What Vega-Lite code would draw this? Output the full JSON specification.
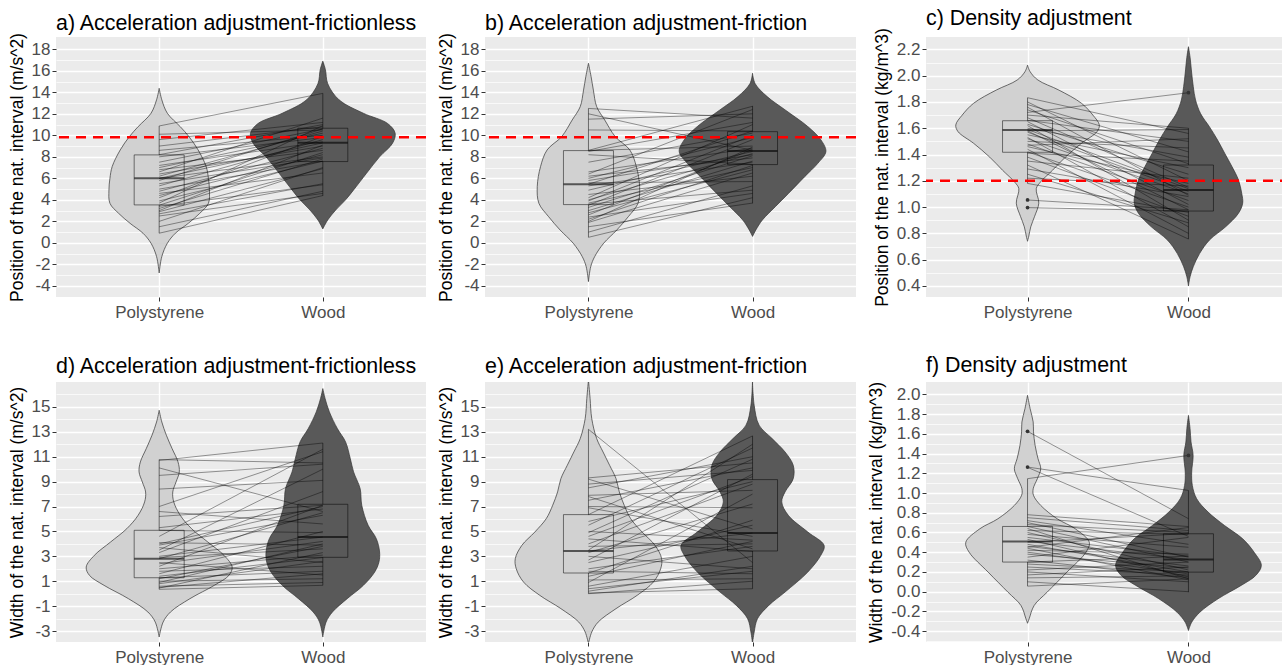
{
"$schema": "https://vega.github.io/schema/vega-lite/v6.json",
"background": "#FFFFFF",
"padding": {"left": 8, "top": 7, "right": 0, "bottom": 0},
"datasets": {
"violin": [
{"panel":"a","group":"Polystyrene","y":14.37,"w":0},{"panel":"a","group":"Polystyrene","y":13.3,"w":0.016},{"panel":"a","group":"Polystyrene","y":12.05,"w":0.05},{"panel":"a","group":"Polystyrene","y":10.8,"w":0.129},{"panel":"a","group":"Polystyrene","y":9.88,"w":0.182},{"panel":"a","group":"Polystyrene","y":8.64,"w":0.238},{"panel":"a","group":"Polystyrene","y":7.1,"w":0.287},{"panel":"a","group":"Polystyrene","y":6.0,"w":0.301},{"panel":"a","group":"Polystyrene","y":4.92,"w":0.307},{"panel":"a","group":"Polystyrene","y":3.68,"w":0.301},{"panel":"a","group":"Polystyrene","y":2.75,"w":0.248},{"panel":"a","group":"Polystyrene","y":1.82,"w":0.178},{"panel":"a","group":"Polystyrene","y":0.9,"w":0.099},{"panel":"a","group":"Polystyrene","y":-0.03,"w":0.05},{"panel":"a","group":"Polystyrene","y":-1.27,"w":0.016},{"panel":"a","group":"Polystyrene","y":-2.8,"w":0},
{"panel":"a","group":"Wood","y":16.9,"w":0},{"panel":"a","group":"Wood","y":16.1,"w":0.016},{"panel":"a","group":"Wood","y":14.8,"w":0.03},{"panel":"a","group":"Wood","y":13.3,"w":0.099},{"panel":"a","group":"Wood","y":12.05,"w":0.248},{"panel":"a","group":"Wood","y":11.1,"w":0.396},{"panel":"a","group":"Wood","y":10.2,"w":0.442},{"panel":"a","group":"Wood","y":9.26,"w":0.426},{"panel":"a","group":"Wood","y":8.0,"w":0.347},{"panel":"a","group":"Wood","y":6.47,"w":0.267},{"panel":"a","group":"Wood","y":4.92,"w":0.188},{"panel":"a","group":"Wood","y":4.0,"w":0.139},{"panel":"a","group":"Wood","y":3.06,"w":0.079},{"panel":"a","group":"Wood","y":2.13,"w":0.03},{"panel":"a","group":"Wood","y":1.3,"w":0},
{"panel":"b","group":"Polystyrene","y":16.7,"w":0},{"panel":"b","group":"Polystyrene","y":15.46,"w":0.016},{"panel":"b","group":"Polystyrene","y":14.2,"w":0.03},{"panel":"b","group":"Polystyrene","y":12.67,"w":0.05},{"panel":"b","group":"Polystyrene","y":11.43,"w":0.099},{"panel":"b","group":"Polystyrene","y":9.88,"w":0.163},{"panel":"b","group":"Polystyrene","y":8.64,"w":0.252},{"panel":"b","group":"Polystyrene","y":7.09,"w":0.292},{"panel":"b","group":"Polystyrene","y":5.23,"w":0.312},{"panel":"b","group":"Polystyrene","y":3.68,"w":0.302},{"panel":"b","group":"Polystyrene","y":2.44,"w":0.243},{"panel":"b","group":"Polystyrene","y":1.2,"w":0.173},{"panel":"b","group":"Polystyrene","y":-0.03,"w":0.093},{"panel":"b","group":"Polystyrene","y":-1.27,"w":0.038},{"panel":"b","group":"Polystyrene","y":-2.2,"w":0.014},{"panel":"b","group":"Polystyrene","y":-3.6,"w":0},
{"panel":"b","group":"Wood","y":15.77,"w":0},{"panel":"b","group":"Wood","y":14.8,"w":0.016},{"panel":"b","group":"Wood","y":13.6,"w":0.089},{"panel":"b","group":"Wood","y":12.36,"w":0.199},{"panel":"b","group":"Wood","y":10.8,"w":0.338},{"panel":"b","group":"Wood","y":9.57,"w":0.417},{"panel":"b","group":"Wood","y":8.49,"w":0.447},{"panel":"b","group":"Wood","y":7.4,"w":0.398},{"panel":"b","group":"Wood","y":6.16,"w":0.318},{"panel":"b","group":"Wood","y":4.6,"w":0.219},{"panel":"b","group":"Wood","y":3.37,"w":0.139},{"panel":"b","group":"Wood","y":2.13,"w":0.06},{"panel":"b","group":"Wood","y":1.2,"w":0.02},{"panel":"b","group":"Wood","y":0.6,"w":0},
{"panel":"c","group":"Polystyrene","y":2.08,"w":0},{"panel":"c","group":"Polystyrene","y":2.03,"w":0.016},{"panel":"c","group":"Polystyrene","y":1.967,"w":0.064},{"panel":"c","group":"Polystyrene","y":1.89,"w":0.195},{"panel":"c","group":"Polystyrene","y":1.79,"w":0.335},{"panel":"c","group":"Polystyrene","y":1.7,"w":0.406},{"panel":"c","group":"Polystyrene","y":1.625,"w":0.446},{"panel":"c","group":"Polystyrene","y":1.574,"w":0.432},{"panel":"c","group":"Polystyrene","y":1.485,"w":0.335},{"panel":"c","group":"Polystyrene","y":1.38,"w":0.235},{"panel":"c","group":"Polystyrene","y":1.28,"w":0.155},{"panel":"c","group":"Polystyrene","y":1.19,"w":0.08},{"panel":"c","group":"Polystyrene","y":1.14,"w":0.054},{"panel":"c","group":"Polystyrene","y":1.03,"w":0.07},{"panel":"c","group":"Polystyrene","y":0.93,"w":0.044},{"panel":"c","group":"Polystyrene","y":0.85,"w":0.02},{"panel":"c","group":"Polystyrene","y":0.78,"w":0.008},{"panel":"c","group":"Polystyrene","y":0.74,"w":0},
{"panel":"c","group":"Wood","y":2.22,"w":0},{"panel":"c","group":"Wood","y":2.14,"w":0.01},{"panel":"c","group":"Wood","y":2.02,"w":0.02},{"panel":"c","group":"Wood","y":1.916,"w":0.03},{"panel":"c","group":"Wood","y":1.815,"w":0.044},{"panel":"c","group":"Wood","y":1.71,"w":0.076},{"panel":"c","group":"Wood","y":1.61,"w":0.131},{"panel":"c","group":"Wood","y":1.51,"w":0.181},{"panel":"c","group":"Wood","y":1.41,"w":0.225},{"panel":"c","group":"Wood","y":1.307,"w":0.271},{"panel":"c","group":"Wood","y":1.206,"w":0.311},{"panel":"c","group":"Wood","y":1.105,"w":0.331},{"panel":"c","group":"Wood","y":1.03,"w":0.337},{"panel":"c","group":"Wood","y":0.953,"w":0.311},{"panel":"c","group":"Wood","y":0.85,"w":0.231},{"panel":"c","group":"Wood","y":0.75,"w":0.131},{"panel":"c","group":"Wood","y":0.648,"w":0.07},{"panel":"c","group":"Wood","y":0.547,"w":0.03},{"panel":"c","group":"Wood","y":0.47,"w":0.01},{"panel":"c","group":"Wood","y":0.4,"w":0},
{"panel":"d","group":"Polystyrene","y":14.73,"w":0},{"panel":"d","group":"Polystyrene","y":13.79,"w":0.016},{"panel":"d","group":"Polystyrene","y":12.72,"w":0.044},{"panel":"d","group":"Polystyrene","y":11.65,"w":0.079},{"panel":"d","group":"Polystyrene","y":10.58,"w":0.115},{"panel":"d","group":"Polystyrene","y":9.78,"w":0.123},{"panel":"d","group":"Polystyrene","y":8.97,"w":0.103},{"panel":"d","group":"Polystyrene","y":8.17,"w":0.083},{"panel":"d","group":"Polystyrene","y":7.37,"w":0.089},{"panel":"d","group":"Polystyrene","y":6.29,"w":0.129},{"panel":"d","group":"Polystyrene","y":5.22,"w":0.198},{"panel":"d","group":"Polystyrene","y":4.15,"w":0.297},{"panel":"d","group":"Polystyrene","y":3.08,"w":0.396},{"panel":"d","group":"Polystyrene","y":2.14,"w":0.446},{"panel":"d","group":"Polystyrene","y":1.47,"w":0.426},{"panel":"d","group":"Polystyrene","y":0.67,"w":0.337},{"panel":"d","group":"Polystyrene","y":-0.4,"w":0.188},{"panel":"d","group":"Polystyrene","y":-1.47,"w":0.069},{"panel":"d","group":"Polystyrene","y":-2.28,"w":0.024},{"panel":"d","group":"Polystyrene","y":-3.48,"w":0},
{"panel":"d","group":"Wood","y":16.47,"w":0},{"panel":"d","group":"Wood","y":15.67,"w":0.014},{"panel":"d","group":"Wood","y":14.6,"w":0.04},{"panel":"d","group":"Wood","y":13.26,"w":0.089},{"panel":"d","group":"Wood","y":12.19,"w":0.139},{"panel":"d","group":"Wood","y":10.85,"w":0.168},{"panel":"d","group":"Wood","y":9.78,"w":0.188},{"panel":"d","group":"Wood","y":8.44,"w":0.228},{"panel":"d","group":"Wood","y":7.1,"w":0.238},{"panel":"d","group":"Wood","y":5.49,"w":0.277},{"panel":"d","group":"Wood","y":4.42,"w":0.327},{"panel":"d","group":"Wood","y":3.35,"w":0.347},{"panel":"d","group":"Wood","y":2.54,"w":0.343},{"panel":"d","group":"Wood","y":1.74,"w":0.317},{"panel":"d","group":"Wood","y":0.67,"w":0.248},{"panel":"d","group":"Wood","y":-0.4,"w":0.149},{"panel":"d","group":"Wood","y":-1.47,"w":0.059},{"panel":"d","group":"Wood","y":-2.28,"w":0.02},{"panel":"d","group":"Wood","y":-3.48,"w":0},
{"panel":"e","group":"Polystyrene","y":17.2,"w":0},{"panel":"e","group":"Polystyrene","y":15.67,"w":0.01},{"panel":"e","group":"Polystyrene","y":14.06,"w":0.02},{"panel":"e","group":"Polystyrene","y":12.46,"w":0.05},{"panel":"e","group":"Polystyrene","y":11.38,"w":0.089},{"panel":"e","group":"Polystyrene","y":10.31,"w":0.129},{"panel":"e","group":"Polystyrene","y":9.24,"w":0.168},{"panel":"e","group":"Polystyrene","y":8.17,"w":0.188},{"panel":"e","group":"Polystyrene","y":7.1,"w":0.218},{"panel":"e","group":"Polystyrene","y":6.03,"w":0.257},{"panel":"e","group":"Polystyrene","y":4.95,"w":0.327},{"panel":"e","group":"Polystyrene","y":3.88,"w":0.406},{"panel":"e","group":"Polystyrene","y":2.81,"w":0.446},{"panel":"e","group":"Polystyrene","y":2.0,"w":0.44},{"panel":"e","group":"Polystyrene","y":0.94,"w":0.396},{"panel":"e","group":"Polystyrene","y":-0.13,"w":0.297},{"panel":"e","group":"Polystyrene","y":-1.2,"w":0.168},{"panel":"e","group":"Polystyrene","y":-2.28,"w":0.059},{"panel":"e","group":"Polystyrene","y":-3.08,"w":0.02},{"panel":"e","group":"Polystyrene","y":-4.02,"w":0},
{"panel":"e","group":"Wood","y":17.2,"w":0},{"panel":"e","group":"Wood","y":15.13,"w":0.01},{"panel":"e","group":"Wood","y":13.53,"w":0.04},{"panel":"e","group":"Wood","y":12.46,"w":0.119},{"panel":"e","group":"Wood","y":11.38,"w":0.198},{"panel":"e","group":"Wood","y":10.31,"w":0.248},{"panel":"e","group":"Wood","y":9.24,"w":0.248},{"panel":"e","group":"Wood","y":8.17,"w":0.198},{"panel":"e","group":"Wood","y":7.37,"w":0.178},{"panel":"e","group":"Wood","y":6.29,"w":0.218},{"panel":"e","group":"Wood","y":4.95,"w":0.337},{"panel":"e","group":"Wood","y":3.88,"w":0.436},{"panel":"e","group":"Wood","y":3.08,"w":0.416},{"panel":"e","group":"Wood","y":1.74,"w":0.337},{"panel":"e","group":"Wood","y":0.13,"w":0.198},{"panel":"e","group":"Wood","y":-0.94,"w":0.099},{"panel":"e","group":"Wood","y":-2.01,"w":0.03},{"panel":"e","group":"Wood","y":-3.08,"w":0.01},{"panel":"e","group":"Wood","y":-4.02,"w":0},
{"panel":"f","group":"Polystyrene","y":1.99,"w":0},{"panel":"f","group":"Polystyrene","y":1.855,"w":0.016},{"panel":"f","group":"Polystyrene","y":1.72,"w":0.035},{"panel":"f","group":"Polystyrene","y":1.62,"w":0.037},{"panel":"f","group":"Polystyrene","y":1.483,"w":0.047},{"panel":"f","group":"Polystyrene","y":1.348,"w":0.065},{"panel":"f","group":"Polystyrene","y":1.246,"w":0.082},{"panel":"f","group":"Polystyrene","y":1.145,"w":0.061},{"panel":"f","group":"Polystyrene","y":1.043,"w":0.035},{"panel":"f","group":"Polystyrene","y":0.976,"w":0.037},{"panel":"f","group":"Polystyrene","y":0.874,"w":0.082},{"panel":"f","group":"Polystyrene","y":0.739,"w":0.184},{"panel":"f","group":"Polystyrene","y":0.638,"w":0.296},{"panel":"f","group":"Polystyrene","y":0.5,"w":0.384},{"panel":"f","group":"Polystyrene","y":0.4,"w":0.363},{"panel":"f","group":"Polystyrene","y":0.198,"w":0.245},{"panel":"f","group":"Polystyrene","y":-0.005,"w":0.122},{"panel":"f","group":"Polystyrene","y":-0.14,"w":0.041},{"panel":"f","group":"Polystyrene","y":-0.275,"w":0.01},{"panel":"f","group":"Polystyrene","y":-0.32,"w":0},
{"panel":"f","group":"Wood","y":1.787,"w":0},{"panel":"f","group":"Wood","y":1.652,"w":0.01},{"panel":"f","group":"Wood","y":1.517,"w":0.016},{"panel":"f","group":"Wood","y":1.381,"w":0.029},{"panel":"f","group":"Wood","y":1.212,"w":0.02},{"panel":"f","group":"Wood","y":1.077,"w":0.024},{"panel":"f","group":"Wood","y":0.942,"w":0.051},{"panel":"f","group":"Wood","y":0.807,"w":0.122},{"panel":"f","group":"Wood","y":0.671,"w":0.224},{"panel":"f","group":"Wood","y":0.536,"w":0.337},{"panel":"f","group":"Wood","y":0.4,"w":0.408},{"panel":"f","group":"Wood","y":0.266,"w":0.453},{"panel":"f","group":"Wood","y":0.164,"w":0.418},{"panel":"f","group":"Wood","y":0.063,"w":0.327},{"panel":"f","group":"Wood","y":-0.072,"w":0.184},{"panel":"f","group":"Wood","y":-0.208,"w":0.071},{"panel":"f","group":"Wood","y":-0.31,"w":0.02},{"panel":"f","group":"Wood","y":-0.394,"w":0}
],
"pairs": [
{"panel":"a","poly":10.87,"wood":13.9},{"panel":"a","poly":10.1,"wood":10.5},{"panel":"a","poly":9.6,"wood":11.2},{"panel":"a","poly":9.0,"wood":10.8},{"panel":"a","poly":8.6,"wood":10.0},{"panel":"a","poly":8.2,"wood":11.0},{"panel":"a","poly":8.0,"wood":9.8},{"panel":"a","poly":7.5,"wood":10.6},{"panel":"a","poly":7.2,"wood":9.4},{"panel":"a","poly":7.0,"wood":10.2},{"panel":"a","poly":6.8,"wood":8.6},{"panel":"a","poly":6.6,"wood":11.6},{"panel":"a","poly":6.4,"wood":9.0},{"panel":"a","poly":6.2,"wood":10.4},{"panel":"a","poly":6.0,"wood":9.3},{"panel":"a","poly":6.0,"wood":8.0},{"panel":"a","poly":5.8,"wood":10.6},{"panel":"a","poly":5.5,"wood":7.9},{"panel":"a","poly":5.3,"wood":9.6},{"panel":"a","poly":5.0,"wood":7.6},{"panel":"a","poly":4.8,"wood":8.8},{"panel":"a","poly":4.6,"wood":6.5},{"panel":"a","poly":4.2,"wood":9.9},{"panel":"a","poly":3.9,"wood":7.6},{"panel":"a","poly":3.7,"wood":10.9},{"panel":"a","poly":3.5,"wood":8.4},{"panel":"a","poly":3.4,"wood":5.4},{"panel":"a","poly":3.2,"wood":7.8},{"panel":"a","poly":3.0,"wood":9.1},{"panel":"a","poly":2.9,"wood":6.9},{"panel":"a","poly":2.7,"wood":5.5},{"panel":"a","poly":2.5,"wood":4.6},{"panel":"a","poly":2.0,"wood":7.0},{"panel":"a","poly":1.5,"wood":4.8},{"panel":"a","poly":0.9,"wood":4.4},{"panel":"a","poly":4.4,"wood":8.2},
{"panel":"b","poly":12.5,"wood":11.6},{"panel":"b","poly":12.0,"wood":8.6},{"panel":"b","poly":11.5,"wood":12.0},{"panel":"b","poly":10.5,"wood":10.4},{"panel":"b","poly":8.6,"wood":12.7},{"panel":"b","poly":8.6,"wood":9.0},{"panel":"b","poly":8.5,"wood":11.2},{"panel":"b","poly":8.2,"wood":7.3},{"panel":"b","poly":7.5,"wood":10.2},{"panel":"b","poly":6.6,"wood":8.8},{"panel":"b","poly":6.4,"wood":12.4},{"panel":"b","poly":6.2,"wood":7.9},{"panel":"b","poly":6.0,"wood":9.8},{"panel":"b","poly":5.8,"wood":8.2},{"panel":"b","poly":5.6,"wood":5.7},{"panel":"b","poly":5.45,"wood":10.4},{"panel":"b","poly":5.3,"wood":7.5},{"panel":"b","poly":4.9,"wood":8.5},{"panel":"b","poly":4.5,"wood":6.2},{"panel":"b","poly":4.0,"wood":8.3},{"panel":"b","poly":3.9,"wood":10.0},{"panel":"b","poly":3.7,"wood":7.0},{"panel":"b","poly":3.6,"wood":4.9},{"panel":"b","poly":3.5,"wood":9.6},{"panel":"b","poly":3.3,"wood":8.1},{"panel":"b","poly":3.0,"wood":7.6},{"panel":"b","poly":2.8,"wood":6.8},{"panel":"b","poly":2.6,"wood":8.7},{"panel":"b","poly":2.4,"wood":4.6},{"panel":"b","poly":2.2,"wood":7.2},{"panel":"b","poly":2.0,"wood":8.9},{"panel":"b","poly":1.9,"wood":6.5},{"panel":"b","poly":1.5,"wood":3.7},{"panel":"b","poly":1.0,"wood":5.3},{"panel":"b","poly":0.52,"wood":4.2},{"panel":"b","poly":4.2,"wood":11.0},
{"panel":"c","poly":1.72,"wood":1.87},{"panel":"c","poly":1.832,"wood":1.56},{"panel":"c","poly":1.8,"wood":1.2},{"panel":"c","poly":1.78,"wood":1.42},{"panel":"c","poly":1.76,"wood":1.09},{"panel":"c","poly":1.74,"wood":1.33},{"panel":"c","poly":1.7,"wood":1.6},{"panel":"c","poly":1.68,"wood":1.15},{"panel":"c","poly":1.66,"wood":1.5},{"panel":"c","poly":1.65,"wood":1.02},{"panel":"c","poly":1.63,"wood":1.25},{"panel":"c","poly":1.62,"wood":0.9},{"panel":"c","poly":1.6,"wood":1.38},{"panel":"c","poly":1.59,"wood":1.14},{"panel":"c","poly":1.58,"wood":1.59},{"panel":"c","poly":1.58,"wood":0.98},{"panel":"c","poly":1.57,"wood":1.12},{"panel":"c","poly":1.55,"wood":1.3},{"panel":"c","poly":1.53,"wood":0.85},{"panel":"c","poly":1.5,"wood":1.45},{"panel":"c","poly":1.48,"wood":1.05},{"panel":"c","poly":1.46,"wood":1.18},{"panel":"c","poly":1.44,"wood":0.8},{"panel":"c","poly":1.42,"wood":1.0},{"panel":"c","poly":1.41,"wood":1.35},{"panel":"c","poly":1.38,"wood":0.93},{"panel":"c","poly":1.35,"wood":1.22},{"panel":"c","poly":1.32,"wood":0.757},{"panel":"c","poly":1.29,"wood":1.08},{"panel":"c","poly":1.25,"wood":0.88},{"panel":"c","poly":1.22,"wood":1.16},{"panel":"c","poly":1.18,"wood":0.96},{"panel":"c","poly":1.054,"wood":0.98},{"panel":"c","poly":0.996,"wood":0.97},{"panel":"c","poly":1.47,"wood":1.52},{"panel":"c","poly":1.52,"wood":1.1},
{"panel":"d","poly":10.77,"wood":10.5},{"panel":"d","poly":10.7,"wood":12.1},{"panel":"d","poly":10.1,"wood":6.6},{"panel":"d","poly":9.5,"wood":10.4},{"panel":"d","poly":8.4,"wood":9.1},{"panel":"d","poly":7.0,"wood":11.4},{"panel":"d","poly":6.6,"wood":5.6},{"panel":"d","poly":6.2,"wood":7.1},{"panel":"d","poly":5.3,"wood":6.8},{"panel":"d","poly":5.09,"wood":4.9},{"panel":"d","poly":4.6,"wood":11.6},{"panel":"d","poly":4.1,"wood":3.9},{"panel":"d","poly":4.0,"wood":7.0},{"panel":"d","poly":3.9,"wood":6.3},{"panel":"d","poly":3.7,"wood":2.5},{"panel":"d","poly":3.3,"wood":8.2},{"panel":"d","poly":3.0,"wood":4.55},{"panel":"d","poly":2.9,"wood":3.6},{"panel":"d","poly":2.81,"wood":6.5},{"panel":"d","poly":2.5,"wood":1.5},{"panel":"d","poly":2.4,"wood":4.2},{"panel":"d","poly":2.2,"wood":7.1},{"panel":"d","poly":2.0,"wood":3.1},{"panel":"d","poly":1.8,"wood":2.2},{"panel":"d","poly":1.6,"wood":5.0},{"panel":"d","poly":1.4,"wood":2.9},{"panel":"d","poly":1.28,"wood":1.8},{"panel":"d","poly":1.2,"wood":3.8},{"panel":"d","poly":1.0,"wood":1.2},{"panel":"d","poly":0.9,"wood":4.0},{"panel":"d","poly":0.8,"wood":2.6},{"panel":"d","poly":0.6,"wood":0.9},{"panel":"d","poly":0.5,"wood":1.6},{"panel":"d","poly":0.35,"wood":0.67},{"panel":"d","poly":0.45,"wood":3.3},{"panel":"d","poly":3.5,"wood":10.0},
{"panel":"e","poly":13.2,"wood":2.5},{"panel":"e","poly":9.3,"wood":10.5},{"panel":"e","poly":9.2,"wood":5.2},{"panel":"e","poly":8.8,"wood":9.9},{"panel":"e","poly":8.5,"wood":11.0},{"panel":"e","poly":7.9,"wood":8.3},{"panel":"e","poly":7.8,"wood":3.6},{"panel":"e","poly":7.5,"wood":10.1},{"panel":"e","poly":7.0,"wood":6.9},{"panel":"e","poly":6.9,"wood":4.6},{"panel":"e","poly":6.35,"wood":12.67},{"panel":"e","poly":5.8,"wood":9.0},{"panel":"e","poly":5.5,"wood":11.7},{"panel":"e","poly":4.9,"wood":10.8},{"panel":"e","poly":4.6,"wood":9.4},{"panel":"e","poly":4.4,"wood":3.4},{"panel":"e","poly":4.0,"wood":8.8},{"panel":"e","poly":3.8,"wood":4.0},{"panel":"e","poly":3.5,"wood":12.0},{"panel":"e","poly":3.43,"wood":4.87},{"panel":"e","poly":3.3,"wood":7.2},{"panel":"e","poly":3.0,"wood":2.0},{"panel":"e","poly":2.7,"wood":9.6},{"panel":"e","poly":2.5,"wood":5.5},{"panel":"e","poly":2.0,"wood":3.8},{"panel":"e","poly":1.8,"wood":1.6},{"panel":"e","poly":1.66,"wood":5.9},{"panel":"e","poly":1.4,"wood":4.2},{"panel":"e","poly":1.1,"wood":1.2},{"panel":"e","poly":0.9,"wood":8.0},{"panel":"e","poly":0.6,"wood":3.0},{"panel":"e","poly":0.4,"wood":1.8},{"panel":"e","poly":0.2,"wood":2.2},{"panel":"e","poly":0.05,"wood":0.4},{"panel":"e","poly":0.0,"wood":1.0},{"panel":"e","poly":5.0,"wood":4.3},
{"panel":"f","poly":1.625,"wood":0.74},{"panel":"f","poly":1.263,"wood":1.026},{"panel":"f","poly":1.26,"wood":0.56},{"panel":"f","poly":1.145,"wood":1.381},{"panel":"f","poly":0.78,"wood":0.66},{"panel":"f","poly":0.75,"wood":0.62},{"panel":"f","poly":0.72,"wood":0.48},{"panel":"f","poly":0.7,"wood":0.35},{"panel":"f","poly":0.68,"wood":0.6},{"panel":"f","poly":0.661,"wood":0.3},{"panel":"f","poly":0.64,"wood":0.13},{"panel":"f","poly":0.62,"wood":0.58},{"panel":"f","poly":0.6,"wood":0.22},{"panel":"f","poly":0.58,"wood":0.45},{"panel":"f","poly":0.55,"wood":0.36},{"panel":"f","poly":0.53,"wood":0.15},{"panel":"f","poly":0.51,"wood":0.327},{"panel":"f","poly":0.5,"wood":0.59},{"panel":"f","poly":0.48,"wood":0.2},{"panel":"f","poly":0.46,"wood":0.26},{"panel":"f","poly":0.44,"wood":0.12},{"panel":"f","poly":0.42,"wood":0.38},{"panel":"f","poly":0.4,"wood":0.18},{"panel":"f","poly":0.38,"wood":0.24},{"panel":"f","poly":0.35,"wood":0.55},{"panel":"f","poly":0.32,"wood":0.14},{"panel":"f","poly":0.3,"wood":0.36},{"panel":"f","poly":0.28,"wood":0.2},{"panel":"f","poly":0.25,"wood":0.17},{"panel":"f","poly":0.22,"wood":0.3},{"panel":"f","poly":0.2,"wood":0.1},{"panel":"f","poly":0.17,"wood":0.25},{"panel":"f","poly":0.14,"wood":0.16},{"panel":"f","poly":0.1,"wood":0.0},{"panel":"f","poly":0.056,"wood":0.13},{"panel":"f","poly":0.45,"wood":0.65}
],
"boxes": [
{"panel":"a","group":"Polystyrene","lower":0.9,"q1":3.53,"median":6.0,"q3":8.18,"upper":10.87},
{"panel":"a","group":"Wood","lower":4.37,"q1":7.56,"median":9.32,"q3":10.66,"upper":13.9},
{"panel":"b","group":"Polystyrene","lower":0.52,"q1":3.56,"median":5.45,"q3":8.58,"upper":12.5},
{"panel":"b","group":"Wood","lower":3.68,"q1":7.28,"median":8.55,"q3":10.34,"upper":12.73},
{"panel":"c","group":"Polystyrene","lower":1.18,"q1":1.417,"median":1.586,"q3":1.657,"upper":1.832},
{"panel":"c","group":"Wood","lower":0.757,"q1":0.97,"median":1.13,"q3":1.32,"upper":1.6},
{"panel":"d","group":"Polystyrene","lower":0.35,"q1":1.28,"median":2.81,"q3":5.09,"upper":10.77},
{"panel":"d","group":"Wood","lower":0.67,"q1":2.92,"median":4.55,"q3":7.18,"upper":12.1},
{"panel":"e","group":"Polystyrene","lower":0.0,"q1":1.66,"median":3.43,"q3":6.35,"upper":13.2},
{"panel":"e","group":"Wood","lower":0.4,"q1":3.43,"median":4.87,"q3":9.16,"upper":12.67},
{"panel":"f","group":"Polystyrene","lower":0.056,"q1":0.3,"median":0.509,"q3":0.661,"upper":1.145},
{"panel":"f","group":"Wood","lower":-0.005,"q1":0.198,"median":0.327,"q3":0.587,"upper":1.026}
],
"outliers": [
{"panel":"c","group":"Polystyrene","value":1.054},{"panel":"c","group":"Polystyrene","value":0.996},{"panel":"c","group":"Wood","value":1.87},
{"panel":"f","group":"Polystyrene","value":1.625},{"panel":"f","group":"Polystyrene","value":1.263},{"panel":"f","group":"Wood","value":1.381}
],
"hline": [
{"panel":"a","ref":9.81},{"panel":"b","ref":9.81},{"panel":"c","ref":1.2}
]
},
"columns": 3,
"align": "each",
"spacing": {"row": 35, "column": 9},
"concat": [
{
"width": 370, "height": 260,
"title": {"text": "a) Acceleration adjustment-frictionless", "offset": -1.7},
"layer": [
{"data": {"name": "violin"}, "transform": [{"filter": "datum.panel === 'a'"}, {"calculate": "(datum.group === 'Wood' ? 2 : 1) - datum.w", "as": "lo"}, {"calculate": "(datum.group === 'Wood' ? 2 : 1) + datum.w", "as": "hi"}],
 "mark": {"type": "area", "orient": "horizontal", "interpolate": "catmull-rom", "stroke": "#333333", "strokeWidth": 0.7, "opacity": 1, "clip": true},
 "encoding": {
  "y": {"field": "y", "type": "quantitative", "scale": {"domain": [-5.03, 19.14], "nice": false, "zero": false},
   "axis": {"title": "Position of the nat. interval (m/s^2)", "tickCount": 200, "values": [-5,-4,-3,-2,-1,0,1,2,3,4,5,6,7,8,9,10,11,12,13,14,15,16,17,18], "labelExpr": "datum.value % 2 === 0 ? '' + datum.value : ''", "gridWidth": {"condition": {"test": "datum.value % 2 === 0", "value": 1.4}, "value": 0.7}, "tickOpacity": {"condition": {"test": "datum.value % 2 === 0", "value": 1}, "value": 0}}},
  "x": {"field": "lo", "type": "quantitative", "scale": {"domain": [0.4, 2.6], "nice": false, "zero": false}, "axis": {"title": null, "values": [1, 2], "labelExpr": "datum.value === 1 ? 'Polystyrene' : 'Wood'"}},
  "x2": {"field": "hi"},
  "fill": {"field": "group", "type": "nominal", "scale": {"domain": ["Polystyrene", "Wood"], "range": ["#D1D1D1", "#595959"]}, "legend": null}
 }},
{"data": {"name": "pairs"}, "transform": [{"filter": "datum.panel === 'a'"}], "mark": {"type": "rule", "color": "#000000", "opacity": 0.4, "strokeWidth": 1}, "encoding": {"x": {"datum": 1}, "x2": {"datum": 2}, "y": {"field": "poly", "type": "quantitative"}, "y2": {"field": "wood"}}},
{"data": {"name": "boxes"}, "transform": [{"filter": "datum.panel === 'a'"}, {"calculate": "datum.group === 'Wood' ? 2 : 1", "as": "pos"}], "mark": {"type": "rule", "color": "#000000", "opacity": 0.5, "strokeWidth": 1}, "encoding": {"x": {"field": "pos", "type": "quantitative"}, "y": {"field": "lower", "type": "quantitative"}, "y2": {"field": "q1"}}},
{"data": {"name": "boxes"}, "transform": [{"filter": "datum.panel === 'a'"}, {"calculate": "datum.group === 'Wood' ? 2 : 1", "as": "pos"}], "mark": {"type": "rule", "color": "#000000", "opacity": 0.5, "strokeWidth": 1}, "encoding": {"x": {"field": "pos", "type": "quantitative"}, "y": {"field": "q3", "type": "quantitative"}, "y2": {"field": "upper"}}},
{"data": {"name": "boxes"}, "transform": [{"filter": "datum.panel === 'a'"}, {"calculate": "datum.group === 'Wood' ? 2 : 1", "as": "pos"}], "mark": {"type": "bar", "width": 50, "fillOpacity": 0, "stroke": "#000000", "strokeOpacity": 0.5, "strokeWidth": 1}, "encoding": {"x": {"field": "pos", "type": "quantitative"}, "y": {"field": "q1", "type": "quantitative"}, "y2": {"field": "q3"}}},
{"data": {"name": "boxes"}, "transform": [{"filter": "datum.panel === 'a'"}, {"calculate": "datum.group === 'Wood' ? 2 : 1", "as": "pos"}], "mark": {"type": "tick", "orient": "horizontal", "size": 50, "thickness": 2, "color": "#000000", "opacity": 0.6}, "encoding": {"x": {"field": "pos", "type": "quantitative"}, "y": {"field": "median", "type": "quantitative"}}},
{"data": {"name": "hline"}, "transform": [{"filter": "datum.panel === 'a'"}], "mark": {"type": "rule", "color": "#FF0000", "strokeWidth": 2.5, "strokeDash": [10, 7]}, "encoding": {"y": {"field": "ref", "type": "quantitative"}}}
]
},
{
"width": 371, "height": 260,
"title": {"text": "b) Acceleration adjustment-friction", "offset": -1.7},
"layer": [
{"data": {"name": "violin"}, "transform": [{"filter": "datum.panel === 'b'"}, {"calculate": "(datum.group === 'Wood' ? 2 : 1) - datum.w", "as": "lo"}, {"calculate": "(datum.group === 'Wood' ? 2 : 1) + datum.w", "as": "hi"}],
 "mark": {"type": "area", "orient": "horizontal", "interpolate": "catmull-rom", "stroke": "#333333", "strokeWidth": 0.7, "opacity": 1, "clip": true},
 "encoding": {
  "y": {"field": "y", "type": "quantitative", "scale": {"domain": [-5.03, 19.14], "nice": false, "zero": false},
   "axis": {"title": "Position of the nat. interval (m/s^2)", "tickCount": 200, "values": [-5,-4,-3,-2,-1,0,1,2,3,4,5,6,7,8,9,10,11,12,13,14,15,16,17,18], "labelExpr": "datum.value % 2 === 0 ? '' + datum.value : ''", "gridWidth": {"condition": {"test": "datum.value % 2 === 0", "value": 1.4}, "value": 0.7}, "tickOpacity": {"condition": {"test": "datum.value % 2 === 0", "value": 1}, "value": 0}}},
  "x": {"field": "lo", "type": "quantitative", "scale": {"domain": [0.4, 2.6], "nice": false, "zero": false}, "axis": {"title": null, "values": [1, 2], "labelExpr": "datum.value === 1 ? 'Polystyrene' : 'Wood'"}},
  "x2": {"field": "hi"},
  "fill": {"field": "group", "type": "nominal", "scale": {"domain": ["Polystyrene", "Wood"], "range": ["#D1D1D1", "#595959"]}, "legend": null}
 }},
{"data": {"name": "pairs"}, "transform": [{"filter": "datum.panel === 'b'"}], "mark": {"type": "rule", "color": "#000000", "opacity": 0.4, "strokeWidth": 1}, "encoding": {"x": {"datum": 1}, "x2": {"datum": 2}, "y": {"field": "poly", "type": "quantitative"}, "y2": {"field": "wood"}}},
{"data": {"name": "boxes"}, "transform": [{"filter": "datum.panel === 'b'"}, {"calculate": "datum.group === 'Wood' ? 2 : 1", "as": "pos"}], "mark": {"type": "rule", "color": "#000000", "opacity": 0.5, "strokeWidth": 1}, "encoding": {"x": {"field": "pos", "type": "quantitative"}, "y": {"field": "lower", "type": "quantitative"}, "y2": {"field": "q1"}}},
{"data": {"name": "boxes"}, "transform": [{"filter": "datum.panel === 'b'"}, {"calculate": "datum.group === 'Wood' ? 2 : 1", "as": "pos"}], "mark": {"type": "rule", "color": "#000000", "opacity": 0.5, "strokeWidth": 1}, "encoding": {"x": {"field": "pos", "type": "quantitative"}, "y": {"field": "q3", "type": "quantitative"}, "y2": {"field": "upper"}}},
{"data": {"name": "boxes"}, "transform": [{"filter": "datum.panel === 'b'"}, {"calculate": "datum.group === 'Wood' ? 2 : 1", "as": "pos"}], "mark": {"type": "bar", "width": 50, "fillOpacity": 0, "stroke": "#000000", "strokeOpacity": 0.5, "strokeWidth": 1}, "encoding": {"x": {"field": "pos", "type": "quantitative"}, "y": {"field": "q1", "type": "quantitative"}, "y2": {"field": "q3"}}},
{"data": {"name": "boxes"}, "transform": [{"filter": "datum.panel === 'b'"}, {"calculate": "datum.group === 'Wood' ? 2 : 1", "as": "pos"}], "mark": {"type": "tick", "orient": "horizontal", "size": 50, "thickness": 2, "color": "#000000", "opacity": 0.6}, "encoding": {"x": {"field": "pos", "type": "quantitative"}, "y": {"field": "median", "type": "quantitative"}}},
{"data": {"name": "hline"}, "transform": [{"filter": "datum.panel === 'b'"}], "mark": {"type": "rule", "color": "#FF0000", "strokeWidth": 2.5, "strokeDash": [10, 7]}, "encoding": {"y": {"field": "ref", "type": "quantitative"}}}
]
},
{
"width": 364, "height": 260,
"title": {"text": "c) Density adjustment", "offset": -1.7},
"layer": [
{"data": {"name": "violin"}, "transform": [{"filter": "datum.panel === 'c'"}, {"calculate": "(datum.group === 'Wood' ? 2 : 1) - datum.w", "as": "lo"}, {"calculate": "(datum.group === 'Wood' ? 2 : 1) + datum.w", "as": "hi"}],
 "mark": {"type": "area", "orient": "horizontal", "interpolate": "catmull-rom", "stroke": "#333333", "strokeWidth": 0.7, "opacity": 1, "clip": true},
 "encoding": {
  "y": {"field": "y", "type": "quantitative", "scale": {"domain": [0.316, 2.294], "nice": false, "zero": false},
   "axis": {"title": "Position of the nat. interval (kg/m^3)", "tickCount": 200, "values": [0.3,0.4,0.5,0.6,0.7,0.8,0.9,1.0,1.1,1.2,1.3,1.4,1.5,1.6,1.7,1.8,1.9,2.0,2.1,2.2], "labelExpr": "round(datum.value*10) % 2 === 0 ? replace(format(datum.value, '.1f'), '\u2212', '-') : ''", "gridWidth": {"condition": {"test": "round(datum.value*10) % 2 === 0", "value": 1.4}, "value": 0.7}, "tickOpacity": {"condition": {"test": "round(datum.value*10) % 2 === 0", "value": 1}, "value": 0}}},
  "x": {"field": "lo", "type": "quantitative", "scale": {"domain": [0.4, 2.6], "nice": false, "zero": false}, "axis": {"title": null, "values": [1, 2], "labelExpr": "datum.value === 1 ? 'Polystyrene' : 'Wood'"}},
  "x2": {"field": "hi"},
  "fill": {"field": "group", "type": "nominal", "scale": {"domain": ["Polystyrene", "Wood"], "range": ["#D1D1D1", "#595959"]}, "legend": null}
 }},
{"data": {"name": "pairs"}, "transform": [{"filter": "datum.panel === 'c'"}], "mark": {"type": "rule", "color": "#000000", "opacity": 0.4, "strokeWidth": 1}, "encoding": {"x": {"datum": 1}, "x2": {"datum": 2}, "y": {"field": "poly", "type": "quantitative"}, "y2": {"field": "wood"}}},
{"data": {"name": "boxes"}, "transform": [{"filter": "datum.panel === 'c'"}, {"calculate": "datum.group === 'Wood' ? 2 : 1", "as": "pos"}], "mark": {"type": "rule", "color": "#000000", "opacity": 0.5, "strokeWidth": 1}, "encoding": {"x": {"field": "pos", "type": "quantitative"}, "y": {"field": "lower", "type": "quantitative"}, "y2": {"field": "q1"}}},
{"data": {"name": "boxes"}, "transform": [{"filter": "datum.panel === 'c'"}, {"calculate": "datum.group === 'Wood' ? 2 : 1", "as": "pos"}], "mark": {"type": "rule", "color": "#000000", "opacity": 0.5, "strokeWidth": 1}, "encoding": {"x": {"field": "pos", "type": "quantitative"}, "y": {"field": "q3", "type": "quantitative"}, "y2": {"field": "upper"}}},
{"data": {"name": "boxes"}, "transform": [{"filter": "datum.panel === 'c'"}, {"calculate": "datum.group === 'Wood' ? 2 : 1", "as": "pos"}], "mark": {"type": "bar", "width": 50, "fillOpacity": 0, "stroke": "#000000", "strokeOpacity": 0.5, "strokeWidth": 1}, "encoding": {"x": {"field": "pos", "type": "quantitative"}, "y": {"field": "q1", "type": "quantitative"}, "y2": {"field": "q3"}}},
{"data": {"name": "boxes"}, "transform": [{"filter": "datum.panel === 'c'"}, {"calculate": "datum.group === 'Wood' ? 2 : 1", "as": "pos"}], "mark": {"type": "tick", "orient": "horizontal", "size": 50, "thickness": 2, "color": "#000000", "opacity": 0.6}, "encoding": {"x": {"field": "pos", "type": "quantitative"}, "y": {"field": "median", "type": "quantitative"}}},
{"data": {"name": "outliers"}, "transform": [{"filter": "datum.panel === 'c'"}, {"calculate": "datum.group === 'Wood' ? 2 : 1", "as": "pos"}], "mark": {"type": "circle", "size": 14, "color": "#333333", "opacity": 1}, "encoding": {"x": {"field": "pos", "type": "quantitative"}, "y": {"field": "value", "type": "quantitative"}}},
{"data": {"name": "hline"}, "transform": [{"filter": "datum.panel === 'c'"}], "mark": {"type": "rule", "color": "#FF0000", "strokeWidth": 2.5, "strokeDash": [10, 7]}, "encoding": {"y": {"field": "ref", "type": "quantitative"}}}
]
},
{
"width": 370, "height": 260,
"title": {"text": "d) Acceleration adjustment-frictionless", "offset": 5},
"layer": [
{"data": {"name": "violin"}, "transform": [{"filter": "datum.panel === 'd'"}, {"calculate": "(datum.group === 'Wood' ? 2 : 1) - datum.w", "as": "lo"}, {"calculate": "(datum.group === 'Wood' ? 2 : 1) + datum.w", "as": "hi"}],
 "mark": {"type": "area", "orient": "horizontal", "interpolate": "catmull-rom", "stroke": "#333333", "strokeWidth": 0.7, "opacity": 1, "clip": true},
 "encoding": {
  "y": {"field": "y", "type": "quantitative", "scale": {"domain": [-3.88, 17.0], "nice": false, "zero": false},
   "axis": {"title": "Width of the nat. interval (m/s^2)", "tickCount": 200, "values": [-3,-2,-1,0,1,2,3,4,5,6,7,8,9,10,11,12,13,14,15,16], "labelExpr": "abs(datum.value % 2) === 1 ? '' + datum.value : ''", "gridWidth": {"condition": {"test": "abs(datum.value % 2) === 1", "value": 1.4}, "value": 0.7}, "tickOpacity": {"condition": {"test": "abs(datum.value % 2) === 1", "value": 1}, "value": 0}}},
  "x": {"field": "lo", "type": "quantitative", "scale": {"domain": [0.4, 2.6], "nice": false, "zero": false}, "axis": {"title": null, "values": [1, 2], "labelExpr": "datum.value === 1 ? 'Polystyrene' : 'Wood'"}},
  "x2": {"field": "hi"},
  "fill": {"field": "group", "type": "nominal", "scale": {"domain": ["Polystyrene", "Wood"], "range": ["#D1D1D1", "#595959"]}, "legend": null}
 }},
{"data": {"name": "pairs"}, "transform": [{"filter": "datum.panel === 'd'"}], "mark": {"type": "rule", "color": "#000000", "opacity": 0.4, "strokeWidth": 1}, "encoding": {"x": {"datum": 1}, "x2": {"datum": 2}, "y": {"field": "poly", "type": "quantitative"}, "y2": {"field": "wood"}}},
{"data": {"name": "boxes"}, "transform": [{"filter": "datum.panel === 'd'"}, {"calculate": "datum.group === 'Wood' ? 2 : 1", "as": "pos"}], "mark": {"type": "rule", "color": "#000000", "opacity": 0.5, "strokeWidth": 1}, "encoding": {"x": {"field": "pos", "type": "quantitative"}, "y": {"field": "lower", "type": "quantitative"}, "y2": {"field": "q1"}}},
{"data": {"name": "boxes"}, "transform": [{"filter": "datum.panel === 'd'"}, {"calculate": "datum.group === 'Wood' ? 2 : 1", "as": "pos"}], "mark": {"type": "rule", "color": "#000000", "opacity": 0.5, "strokeWidth": 1}, "encoding": {"x": {"field": "pos", "type": "quantitative"}, "y": {"field": "q3", "type": "quantitative"}, "y2": {"field": "upper"}}},
{"data": {"name": "boxes"}, "transform": [{"filter": "datum.panel === 'd'"}, {"calculate": "datum.group === 'Wood' ? 2 : 1", "as": "pos"}], "mark": {"type": "bar", "width": 50, "fillOpacity": 0, "stroke": "#000000", "strokeOpacity": 0.5, "strokeWidth": 1}, "encoding": {"x": {"field": "pos", "type": "quantitative"}, "y": {"field": "q1", "type": "quantitative"}, "y2": {"field": "q3"}}},
{"data": {"name": "boxes"}, "transform": [{"filter": "datum.panel === 'd'"}, {"calculate": "datum.group === 'Wood' ? 2 : 1", "as": "pos"}], "mark": {"type": "tick", "orient": "horizontal", "size": 50, "thickness": 2, "color": "#000000", "opacity": 0.6}, "encoding": {"x": {"field": "pos", "type": "quantitative"}, "y": {"field": "median", "type": "quantitative"}}}
]
},
{
"width": 371, "height": 260,
"title": {"text": "e) Acceleration adjustment-friction", "offset": 5},
"layer": [
{"data": {"name": "violin"}, "transform": [{"filter": "datum.panel === 'e'"}, {"calculate": "(datum.group === 'Wood' ? 2 : 1) - datum.w", "as": "lo"}, {"calculate": "(datum.group === 'Wood' ? 2 : 1) + datum.w", "as": "hi"}],
 "mark": {"type": "area", "orient": "horizontal", "interpolate": "catmull-rom", "stroke": "#333333", "strokeWidth": 0.7, "opacity": 1, "clip": true},
 "encoding": {
  "y": {"field": "y", "type": "quantitative", "scale": {"domain": [-3.88, 17.0], "nice": false, "zero": false},
   "axis": {"title": "Width of the nat. interval (m/s^2)", "tickCount": 200, "values": [-3,-2,-1,0,1,2,3,4,5,6,7,8,9,10,11,12,13,14,15,16], "labelExpr": "abs(datum.value % 2) === 1 ? '' + datum.value : ''", "gridWidth": {"condition": {"test": "abs(datum.value % 2) === 1", "value": 1.4}, "value": 0.7}, "tickOpacity": {"condition": {"test": "abs(datum.value % 2) === 1", "value": 1}, "value": 0}}},
  "x": {"field": "lo", "type": "quantitative", "scale": {"domain": [0.4, 2.6], "nice": false, "zero": false}, "axis": {"title": null, "values": [1, 2], "labelExpr": "datum.value === 1 ? 'Polystyrene' : 'Wood'"}},
  "x2": {"field": "hi"},
  "fill": {"field": "group", "type": "nominal", "scale": {"domain": ["Polystyrene", "Wood"], "range": ["#D1D1D1", "#595959"]}, "legend": null}
 }},
{"data": {"name": "pairs"}, "transform": [{"filter": "datum.panel === 'e'"}], "mark": {"type": "rule", "color": "#000000", "opacity": 0.4, "strokeWidth": 1}, "encoding": {"x": {"datum": 1}, "x2": {"datum": 2}, "y": {"field": "poly", "type": "quantitative"}, "y2": {"field": "wood"}}},
{"data": {"name": "boxes"}, "transform": [{"filter": "datum.panel === 'e'"}, {"calculate": "datum.group === 'Wood' ? 2 : 1", "as": "pos"}], "mark": {"type": "rule", "color": "#000000", "opacity": 0.5, "strokeWidth": 1}, "encoding": {"x": {"field": "pos", "type": "quantitative"}, "y": {"field": "lower", "type": "quantitative"}, "y2": {"field": "q1"}}},
{"data": {"name": "boxes"}, "transform": [{"filter": "datum.panel === 'e'"}, {"calculate": "datum.group === 'Wood' ? 2 : 1", "as": "pos"}], "mark": {"type": "rule", "color": "#000000", "opacity": 0.5, "strokeWidth": 1}, "encoding": {"x": {"field": "pos", "type": "quantitative"}, "y": {"field": "q3", "type": "quantitative"}, "y2": {"field": "upper"}}},
{"data": {"name": "boxes"}, "transform": [{"filter": "datum.panel === 'e'"}, {"calculate": "datum.group === 'Wood' ? 2 : 1", "as": "pos"}], "mark": {"type": "bar", "width": 50, "fillOpacity": 0, "stroke": "#000000", "strokeOpacity": 0.5, "strokeWidth": 1}, "encoding": {"x": {"field": "pos", "type": "quantitative"}, "y": {"field": "q1", "type": "quantitative"}, "y2": {"field": "q3"}}},
{"data": {"name": "boxes"}, "transform": [{"filter": "datum.panel === 'e'"}, {"calculate": "datum.group === 'Wood' ? 2 : 1", "as": "pos"}], "mark": {"type": "tick", "orient": "horizontal", "size": 50, "thickness": 2, "color": "#000000", "opacity": 0.6}, "encoding": {"x": {"field": "pos", "type": "quantitative"}, "y": {"field": "median", "type": "quantitative"}}}
]
},
{
"width": 364, "height": 260,
"title": {"text": "f) Density adjustment", "offset": 5},
"layer": [
{"data": {"name": "violin"}, "transform": [{"filter": "datum.panel === 'f'"}, {"calculate": "(datum.group === 'Wood' ? 2 : 1) - datum.w", "as": "lo"}, {"calculate": "(datum.group === 'Wood' ? 2 : 1) + datum.w", "as": "hi"}],
 "mark": {"type": "area", "orient": "horizontal", "interpolate": "catmull-rom", "stroke": "#333333", "strokeWidth": 0.7, "opacity": 1, "clip": true},
 "encoding": {
  "y": {"field": "y", "type": "quantitative", "scale": {"domain": [-0.51, 2.125], "nice": false, "zero": false},
   "axis": {"title": "Width of the nat. interval (kg/m^3)", "tickCount": 200, "values": [-0.5,-0.4,-0.3,-0.2,-0.1,0,0.1,0.2,0.3,0.4,0.5,0.6,0.7,0.8,0.9,1.0,1.1,1.2,1.3,1.4,1.5,1.6,1.7,1.8,1.9,2.0], "labelExpr": "round(datum.value*10) % 2 === 0 ? replace(format(datum.value, '.1f'), '\u2212', '-') : ''", "gridWidth": {"condition": {"test": "round(datum.value*10) % 2 === 0", "value": 1.4}, "value": 0.7}, "tickOpacity": {"condition": {"test": "round(datum.value*10) % 2 === 0", "value": 1}, "value": 0}}},
  "x": {"field": "lo", "type": "quantitative", "scale": {"domain": [0.4, 2.6], "nice": false, "zero": false}, "axis": {"title": null, "values": [1, 2], "labelExpr": "datum.value === 1 ? 'Polystyrene' : 'Wood'"}},
  "x2": {"field": "hi"},
  "fill": {"field": "group", "type": "nominal", "scale": {"domain": ["Polystyrene", "Wood"], "range": ["#D1D1D1", "#595959"]}, "legend": null}
 }},
{"data": {"name": "pairs"}, "transform": [{"filter": "datum.panel === 'f'"}], "mark": {"type": "rule", "color": "#000000", "opacity": 0.4, "strokeWidth": 1}, "encoding": {"x": {"datum": 1}, "x2": {"datum": 2}, "y": {"field": "poly", "type": "quantitative"}, "y2": {"field": "wood"}}},
{"data": {"name": "boxes"}, "transform": [{"filter": "datum.panel === 'f'"}, {"calculate": "datum.group === 'Wood' ? 2 : 1", "as": "pos"}], "mark": {"type": "rule", "color": "#000000", "opacity": 0.5, "strokeWidth": 1}, "encoding": {"x": {"field": "pos", "type": "quantitative"}, "y": {"field": "lower", "type": "quantitative"}, "y2": {"field": "q1"}}},
{"data": {"name": "boxes"}, "transform": [{"filter": "datum.panel === 'f'"}, {"calculate": "datum.group === 'Wood' ? 2 : 1", "as": "pos"}], "mark": {"type": "rule", "color": "#000000", "opacity": 0.5, "strokeWidth": 1}, "encoding": {"x": {"field": "pos", "type": "quantitative"}, "y": {"field": "q3", "type": "quantitative"}, "y2": {"field": "upper"}}},
{"data": {"name": "boxes"}, "transform": [{"filter": "datum.panel === 'f'"}, {"calculate": "datum.group === 'Wood' ? 2 : 1", "as": "pos"}], "mark": {"type": "bar", "width": 50, "fillOpacity": 0, "stroke": "#000000", "strokeOpacity": 0.5, "strokeWidth": 1}, "encoding": {"x": {"field": "pos", "type": "quantitative"}, "y": {"field": "q1", "type": "quantitative"}, "y2": {"field": "q3"}}},
{"data": {"name": "boxes"}, "transform": [{"filter": "datum.panel === 'f'"}, {"calculate": "datum.group === 'Wood' ? 2 : 1", "as": "pos"}], "mark": {"type": "tick", "orient": "horizontal", "size": 50, "thickness": 2, "color": "#000000", "opacity": 0.6}, "encoding": {"x": {"field": "pos", "type": "quantitative"}, "y": {"field": "median", "type": "quantitative"}}},
{"data": {"name": "outliers"}, "transform": [{"filter": "datum.panel === 'f'"}, {"calculate": "datum.group === 'Wood' ? 2 : 1", "as": "pos"}], "mark": {"type": "circle", "size": 14, "color": "#333333", "opacity": 1}, "encoding": {"x": {"field": "pos", "type": "quantitative"}, "y": {"field": "value", "type": "quantitative"}}}
]
}
],
"config": {
 "font": "Liberation Sans",
 "view": {"fill": "#EBEBEB", "stroke": null},
 "axis": {"domain": false, "gridColor": "#FFFFFF", "labelColor": "#4D4D4D", "labelFontSize": 17, "labelOverlap": false, "labelBound": false, "titleFontSize": 17.5, "titleFontWeight": "normal", "titleColor": "#000000", "tickColor": "#333333", "tickSize": 4, "labelPadding": 2, "titlePadding": 5},
 "axisX": {"labelPadding": 3, "gridWidth": 1.4, "labelFlush": false},
 "title": {"fontSize": 21.4, "fontWeight": "normal", "anchor": "start", "frame": "group", "color": "#000000"}
}
}
